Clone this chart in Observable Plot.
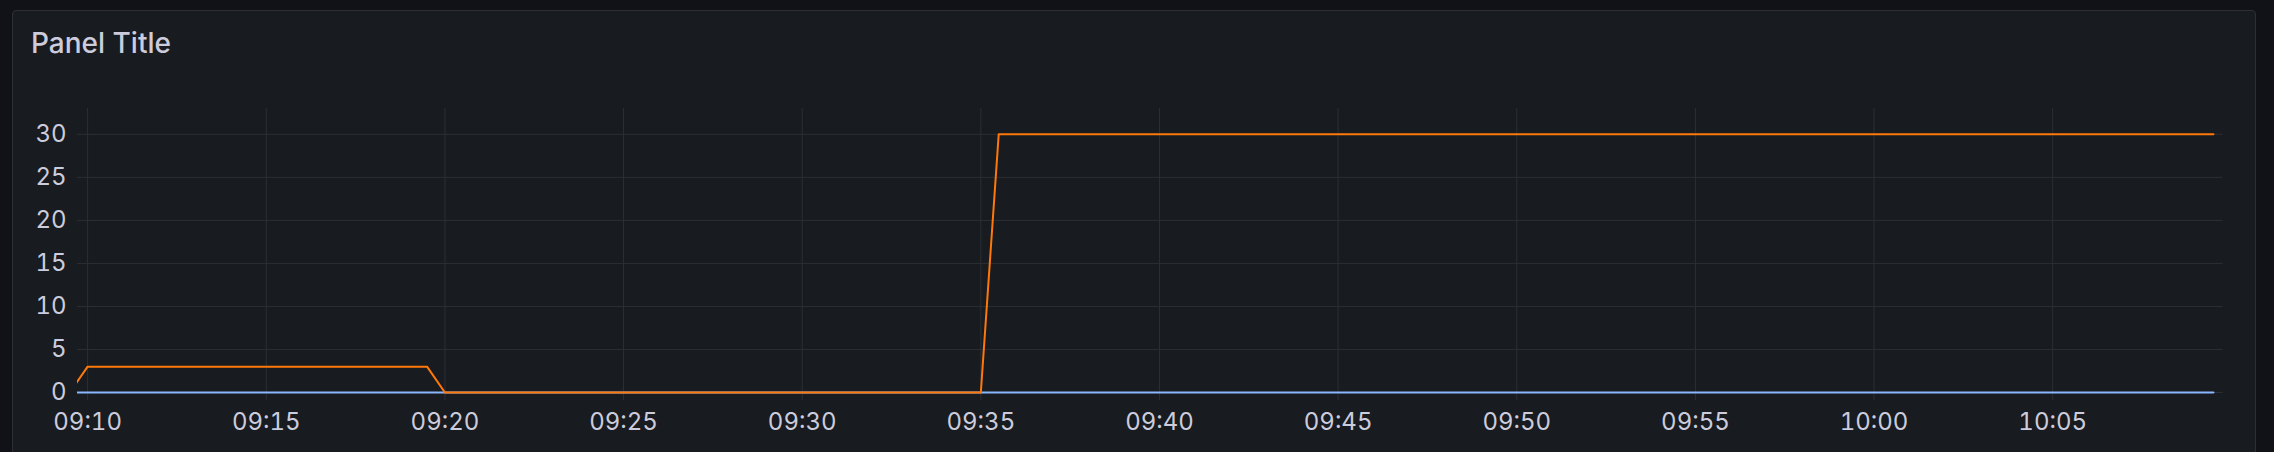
<!DOCTYPE html>
<html>
<head>
<meta charset="utf-8">
<script src="https://cdn.jsdelivr.net/npm/d3@7"></script>
<script src="https://cdn.jsdelivr.net/npm/@observablehq/plot@0.6"></script>
<style>
  html, body { margin: 0; padding: 0; background: #111217; width: 2274px; height: 452px; overflow: hidden; }
  #panel { position: absolute; left: 12px; top: 10px; width: 2242px; height: 480px; background: #181b1f; border: 1px solid #2c2f35; border-radius: 4px; }
  #title { position: absolute; left: 31px; top: 29px; font-family: Inter, sans-serif; font-size: 28px; line-height: 28px; font-weight: 500; color: #ccccdc; white-space: nowrap; }
  #chart { position: absolute; left: 0; top: 0; }
</style>
</head>
<body>
<div id="panel"></div>
<div id="title">Panel Title</div>
<div id="chart"></div>
<script>
const day = "2024-01-01T";
// visible vertices of each series (time, value)
const seriesNames = ["A-series", "B-series"];
const blueTimes = ["09:09:30", "10:09:30"];
const blueValues = [0, 0];
const orangeTimes = ["09:09:30", "09:10:00", "09:19:30", "09:20:00", "09:35:00", "09:35:30", "10:09:30"];
const orangeValues = [0, 3, 3, 0, 0, 30, 30];
const xTickLabels = ["09:10", "09:15", "09:20", "09:25", "09:30", "09:35", "09:40", "09:45", "09:50", "09:55", "10:00", "10:05"];
const yTicks = [0, 5, 10, 15, 20, 25, 30];
const timeRange = ["09:09:43", "10:09:46"];
const yMax = 33;

const t = (s) => new Date(day + (s.length === 5 ? s + ":00" : s) + "Z");
const blue = blueTimes.map((s, i) => ({time: t(s), value: blueValues[i], series: seriesNames[0]}));
const orange = orangeTimes.map((s, i) => ({time: t(s), value: orangeValues[i], series: seriesNames[1]}));
const xTicks = xTickLabels.map(t);
const grid = "#2c2f34";
const fmt = d3.utcFormat("%H:%M");

const chart = Plot.plot({
  width: 2274,
  height: 452,
  marginLeft: 77,
  marginRight: 51.5,
  marginTop: 108,
  marginBottom: 58,
  style: {background: "transparent", fontFamily: "Inter, sans-serif", fontSize: "24px", color: "#ccccdc", overflow: "visible"},
  x: {type: "utc", domain: timeRange.map(t), axis: null},
  y: {domain: [0, yMax], insetBottom: 2, axis: null},
  marks: [
    Plot.gridY(yTicks, {stroke: grid, strokeOpacity: 1}),
    Plot.gridX(xTicks, {stroke: grid, strokeOpacity: 1}),
    Plot.axisX(xTicks, {tickSize: 6, tickPadding: 12, stroke: grid, strokeOpacity: 1, fill: "#ccccdc", tickFormat: fmt, label: null}),
    Plot.axisY(yTicks, {tickSize: 0, tickPadding: 11, fill: "#ccccdc", label: null}),
    Plot.line(blue, {x: "time", y: "value", stroke: "#8AB8FF", strokeWidth: 2, clip: true}),
    Plot.line(orange, {x: "time", y: "value", stroke: "#FF780A", strokeWidth: 2, clip: true})
  ]
});
document.getElementById("chart").appendChild(chart);
</script>
</body>
</html>
